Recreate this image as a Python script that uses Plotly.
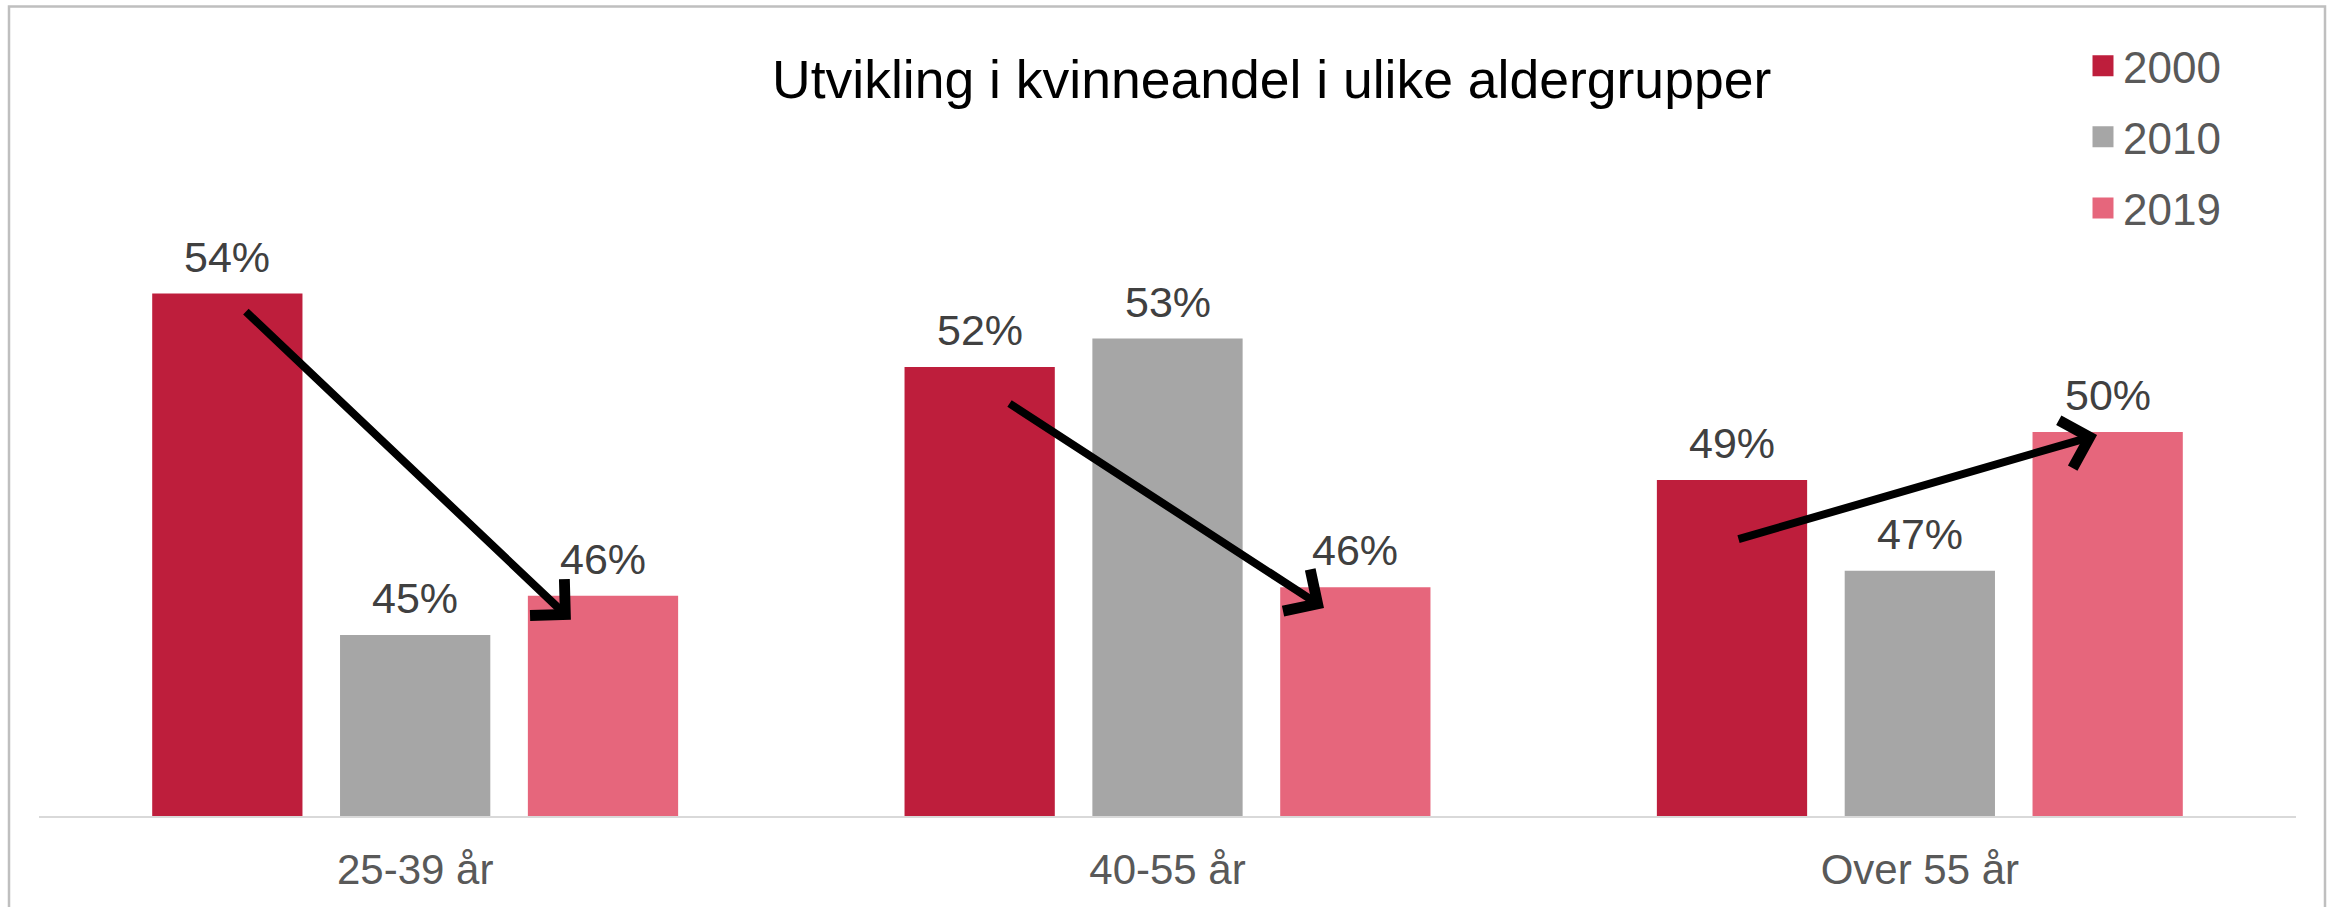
import plotly.graph_objects as go

categories = ["25-39 år", "40-55 år", "Over 55 år"]
series_names = ["2000", "2010", "2019"]
values_2000 = [0.5414, 0.5215, 0.4909]
values_2010 = [0.4490, 0.5292, 0.4664]
values_2019 = [0.4596, 0.4619, 0.5039]
series_values = [values_2000, values_2010, values_2019]
colors = ["#BE1E3C", "#A6A6A6", "#E6667C"]

# arrows (data coordinates: category index, share)
arrow_start_x = [-0.227, 0.788, 1.757]
arrow_start_y = [0.5369, 0.5119, 0.4748]
arrow_end_x = [0.207, 1.208, 2.2356]
arrow_end_y = [0.4531, 0.4563, 0.5031]

title_text = "Utvikling i kvinneandel i ulike aldergrupper"
FONT = "Liberation Sans, Arial, sans-serif"

W, H = 2338, 907
ML, MR, MT, MB = 39, 42, 76.5, 90.5
BARGAP, GROUPGAP = 0.251, 0.2

pw = W - ML - MR
ph = H - MT - MB
cat_px = pw / len(categories)
slot_px = cat_px * (1 - BARGAP) / len(series_names)

fig = go.Figure()
for name, vals, col in zip(series_names, series_values, colors):
    fig.add_trace(go.Bar(
        x=categories, y=vals, name=name, marker_color=col, marker_line_width=0,
        showlegend=False, hoverinfo="skip",
    ))
# data labels
for i, vals in enumerate(series_values):
    for cat, v in zip(categories, vals):
        fig.add_annotation(
            x=cat, y=v, xref="x", yref="y", text=f"{v:.0%}", showarrow=False,
            xshift=(i - (len(series_names) - 1) / 2) * slot_px,
            yanchor="bottom", yshift=11,
            font=dict(family=FONT, size=43, color="#404040"),
        )
# legend swatches
for name, col in zip(series_names, colors):
    fig.add_trace(go.Scatter(
        x=[None], y=[None], mode="markers", name=name, legendgroup=name,
        marker=dict(symbol="square", size=16, color=col, line=dict(color=col, width=5)),
        showlegend=True,
    ))

for sx, sy, ex, ey in zip(arrow_start_x, arrow_start_y, arrow_end_x, arrow_end_y):
    fig.add_annotation(
        x=ex, y=ey, ax=sx, ay=sy, xref="x", yref="y", axref="x", ayref="y",
        showarrow=True, arrowhead=4, arrowsize=1.2, arrowwidth=8, arrowcolor="#000000",
        text="",
    )

# outer border
fig.add_shape(type="rect", xref="paper", yref="paper",
              x0=(9 - ML) / pw, x1=(2325 - ML) / pw,
              y0=-0.3, y1=(H - MB - 6) / ph,
              line=dict(color="#BFBFBF", width=2.5), fillcolor="rgba(0,0,0,0)", layer="below")

fig.update_layout(
    width=W, height=H,
    margin=dict(l=ML, r=MR, t=MT, b=MB, pad=0),
    paper_bgcolor="white", plot_bgcolor="white",
    barmode="group", bargap=BARGAP, bargroupgap=GROUPGAP,
    title=dict(text=title_text, x=772 / W, xanchor="left", xref="container",
               y=1 - 79 / H, yanchor="middle", yref="container",
               font=dict(family=FONT, size=53.5, color="#000000")),
    legend=dict(x=(2083 - ML) / pw, xanchor="left", y=(H - MB - 30) / ph, yanchor="top",
                traceorder="grouped", tracegroupgap=11,
                font=dict(family=FONT, size=44, color="#595959"),
                bgcolor="rgba(0,0,0,0)", itemwidth=30),
    xaxis=dict(showline=True, linecolor="#D9D9D9", linewidth=2, ticks="",
               tickfont=dict(family=FONT, size=42, color="#595959"),
               showgrid=False, zeroline=False, range=[-0.5, 2.5], ticklabelstandoff=16),
    yaxis=dict(range=[0.40, 0.60], visible=False, showgrid=False, zeroline=False),
    showlegend=True,
)

fig.write_html("out.html", post_script="document.body.style.margin='0';",
               config={"displayModeBar": False})
